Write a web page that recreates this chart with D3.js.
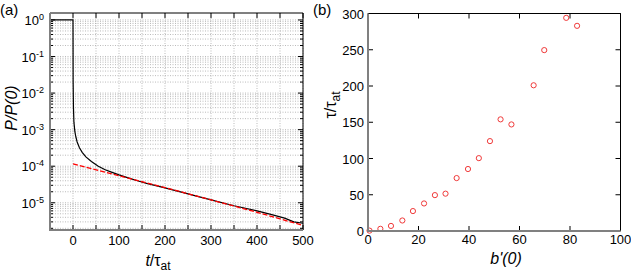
<!DOCTYPE html>
<html>
<head>
<meta charset="utf-8">
<script src="https://cdn.jsdelivr.net/npm/d3@7"></script>
<style>
  body { margin: 0; background: #fff; }
  text { font-family: "Liberation Sans", Arial, sans-serif; fill: #000; }
</style>
</head>
<body>
<div id="vis"></div>
<script>
// DATA
// panel (a): decay of P/P(0) vs t/tau_at
const simT =   [-50, 0, 0.3, 1, 2, 4, 6, 9, 14, 20, 28, 40, 55, 70, 85, 100, 120, 140, 160, 200, 250, 300, 350, 400, 430, 460, 480, 500];
const simP =   [1, 1, 0.02, 4e-3, 1.6e-3, 9e-4, 6.5e-4, 4.6e-4, 3.2e-4, 2.4e-4, 1.8e-4, 1.35e-4, 1.0e-4, 8.0e-5, 6.8e-5, 5.8e-5, 4.8e-5, 4.0e-5, 3.4e-5, 2.55e-5, 1.75e-5, 1.2e-5, 8.3e-6, 6.0e-6, 4.8e-6, 3.8e-6, 3.0e-6, 2.75e-6];
const fitT =   [0, 100, 200, 300, 400, 500];
const fitP =   [1.15e-4, 5.5e-5, 2.6e-5, 1.2e-5, 5.5e-6, 2.4e-6];
const xTicksA = [0, 100, 200, 300, 400, 500];
const yTicksA = [1e0, 1e-1, 1e-2, 1e-3, 1e-4, 1e-5];

// panel (b): tau/tau_at vs b'(0)
const bPrime = [0.6, 4.9, 9.1, 13.6, 17.8, 22.2, 26.5, 30.7, 35.1, 39.6, 43.9, 48.3, 52.5, 56.8, 65.6, 69.8, 78.5, 82.8];
const tauVal = [0.5, 3, 7, 14.5, 27.5, 38, 49.5, 51.5, 73, 85.5, 100.5, 124, 154, 147, 201, 249.5, 294, 283];
const xTicksB = [0, 20, 40, 60, 80, 100];
const yTicksB = [0, 50, 100, 150, 200, 250, 300];

const W = 631, H = 273;
const svg = d3.select("#vis").append("svg").attr("width", W).attr("height", H);

//HELPER FUNCTIONS
function frame(g, x0, x1, y0, y1) {
  g.append("line").attr("x1", x0).attr("x2", x1).attr("y1", y0).attr("y2", y0)
    .attr("stroke", "#000").attr("stroke-width", 1);
  g.append("line").attr("x1", x1).attr("x2", x1).attr("y1", y0).attr("y2", y1)
    .attr("stroke", "#000").attr("stroke-width", 1);
  g.append("line").attr("x1", x0).attr("x2", x0).attr("y1", y0).attr("y2", y1 + 1)
    .attr("stroke", "#808080").attr("stroke-width", 2);
  g.append("line").attr("x1", x0 - 1).attr("x2", x1).attr("y1", y1).attr("y2", y1)
    .attr("stroke", "#808080").attr("stroke-width", 2);
}

// ===== PANEL (a) =====
const xa = d3.scaleLinear().domain([-50, 500]).range([50, 303]);
const ya = d3.scaleLog().domain([1.8e-6, 1.55]).range([230, 13]);
const ga = svg.append("g");

// grid (minor decades + every 50 in t)
const minorA = [];
for (let e = -6; e <= 0; e++) for (let m = 1; m <= 9; m++) {
  const v = m * Math.pow(10, e);
  if (v >= ya.domain()[0] && v <= ya.domain()[1]) minorA.push(v);
}
const vgridA = d3.range(0, 501, 50);
ga.selectAll(".hg").data(minorA).enter().append("line")
  .attr("x1", xa(-50)).attr("x2", xa(500))
  .attr("y1", d => ya(d)).attr("y2", d => ya(d))
  .attr("stroke", "#aaa").attr("stroke-width", 0.8).attr("stroke-dasharray", "1,1.5");
ga.selectAll(".vg").data(vgridA).enter().append("line")
  .attr("x1", d => xa(d)).attr("x2", d => xa(d))
  .attr("y1", ya.range()[1]).attr("y2", ya.range()[0])
  .attr("stroke", "#aaa").attr("stroke-width", 0.8).attr("stroke-dasharray", "1,1.5");

// ticks
ga.selectAll(".mt").data(minorA).enter().append("g").each(function (d) {
  const big = yTicksA.includes(d);
  const L = big ? 5 : 3;
  d3.select(this).append("line").attr("x1", xa(-50)).attr("x2", xa(-50) + L)
    .attr("y1", ya(d)).attr("y2", ya(d)).attr("stroke", "#000");
  d3.select(this).append("line").attr("x1", xa(500)).attr("x2", xa(500) - L)
    .attr("y1", ya(d)).attr("y2", ya(d)).attr("stroke", "#000");
});
ga.selectAll(".xt").data(vgridA).enter().append("g").each(function (d) {
  d3.select(this).append("line").attr("x1", xa(d)).attr("x2", xa(d))
    .attr("y1", ya.range()[1]).attr("y2", ya.range()[1] + 5).attr("stroke", "#000");
  d3.select(this).append("line").attr("x1", xa(d)).attr("x2", xa(d))
    .attr("y1", ya.range()[0]).attr("y2", ya.range()[0] - 5).attr("stroke", "#000");
});

// curves
const lineA = d3.line().x(d => xa(d[0])).y(d => ya(d[1]));
ga.append("path").datum(d3.zip(simT, simP)).attr("d", lineA)
  .attr("fill", "none").attr("stroke", "#000").attr("stroke-width", 1.2);
ga.append("path").datum(d3.zip(fitT, fitP)).attr("d", lineA)
  .attr("fill", "none").attr("stroke", "#ff0000").attr("stroke-width", 1.3)
  .attr("stroke-dasharray", "5,2");

frame(ga, xa(-50), xa(500), ya.range()[1], ya.range()[0]);

// tick labels
ga.selectAll(".xl").data(xTicksA).enter().append("text")
  .attr("x", d => xa(d)).attr("y", 245).attr("text-anchor", "middle")
  .attr("font-size", 13).text(d => d);
ga.selectAll(".yl").data(yTicksA).enter().append("text")
  .attr("x", 44).attr("y", d => ya(d) + 5).attr("text-anchor", "end")
  .attr("font-size", 13)
  .each(function (d) {
    const t = d3.select(this);
    t.append("tspan").text("10");
    t.append("tspan").attr("dy", -5).attr("font-size", 9).text(Math.round(Math.log10(d)) === 0 ? "0" : Math.round(Math.log10(d)));
  });

// axis labels
const xla = ga.append("text").attr("x", 158).attr("y", 266).attr("text-anchor", "middle").attr("font-size", 16);
xla.append("tspan").attr("font-style", "italic").text("t");
xla.append("tspan").text("/τ");
xla.append("tspan").attr("dy", 4).attr("font-size", 12).text("at");
ga.append("text").attr("transform", "translate(17,108) rotate(-90)").attr("text-anchor", "middle")
  .attr("font-size", 16).attr("font-style", "italic").text("P/P(0)");
ga.append("text").attr("x", 0).attr("y", 15).attr("font-size", 15).text("(a)");

// ===== PANEL (b) =====
const xb = d3.scaleLinear().domain([0, 100]).range([368, 620.5]);
const yb = d3.scaleLinear().domain([0, 300]).range([231, 13.5]);
const gb = svg.append("g");

xTicksB.forEach(d => {
  gb.append("line").attr("x1", xb(d)).attr("x2", xb(d)).attr("y1", yb(0)).attr("y2", yb(0) - 5).attr("stroke", "#000");
  gb.append("line").attr("x1", xb(d)).attr("x2", xb(d)).attr("y1", yb(300)).attr("y2", yb(300) + 5).attr("stroke", "#000");
});
yTicksB.forEach(d => {
  gb.append("line").attr("x1", xb(0)).attr("x2", xb(0) + 5).attr("y1", yb(d)).attr("y2", yb(d)).attr("stroke", "#000");
  gb.append("line").attr("x1", xb(100)).attr("x2", xb(100) - 5).attr("y1", yb(d)).attr("y2", yb(d)).attr("stroke", "#000");
});

gb.selectAll(".pt").data(d3.zip(bPrime, tauVal)).enter().append("circle")
  .attr("cx", d => xb(d[0])).attr("cy", d => yb(d[1])).attr("r", 2.6)
  .attr("fill", "none").attr("stroke", "#f03a3a").attr("stroke-width", 1);

frame(gb, xb(0), xb(100), yb(300), yb(0));

gb.selectAll(".xl").data(xTicksB).enter().append("text")
  .attr("x", d => xb(d)).attr("y", 244).attr("text-anchor", "middle")
  .attr("font-size", 13).text(d => d);
gb.selectAll(".yl").data(yTicksB).enter().append("text")
  .attr("x", 364).attr("y", d => yb(d) + 5).attr("text-anchor", "end")
  .attr("font-size", 13).text(d => d);

const xlb = gb.append("text").attr("x", 506).attr("y", 264).attr("text-anchor", "middle")
  .attr("font-size", 16).attr("font-style", "italic").text("b'(0)");
const ylb = gb.append("text").attr("transform", "translate(336,105) rotate(-90)").attr("text-anchor", "middle").attr("font-size", 16);
ylb.append("tspan").text("τ/τ");
ylb.append("tspan").attr("dy", 4).attr("font-size", 12).text("at");
gb.append("text").attr("x", 313).attr("y", 15).attr("font-size", 15).text("(b)");
</script>
</body>
</html>
